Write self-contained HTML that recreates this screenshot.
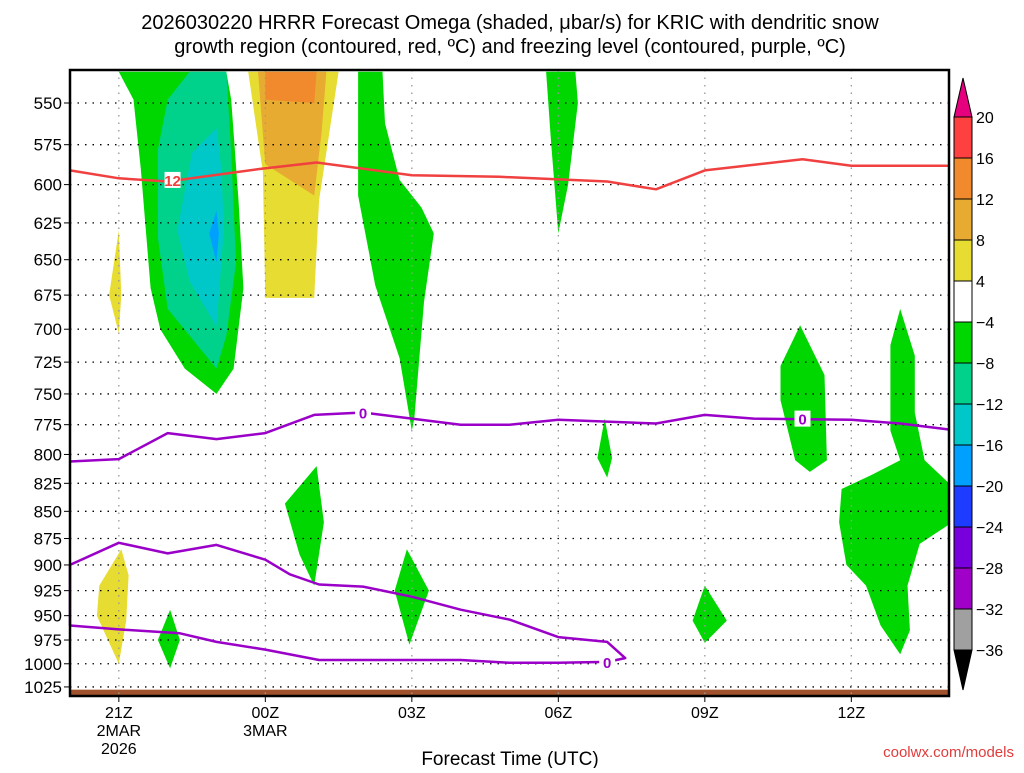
<!DOCTYPE html>
<html><head><meta charset="utf-8"><style>
body{margin:0;background:#fff;width:1024px;height:768px;overflow:hidden;font-family:"Liberation Sans","DejaVu Sans",sans-serif}
svg text{font-family:"Liberation Sans","DejaVu Sans",sans-serif}
</style></head><body>
<svg id="c" width="1024" height="768" xmlns="http://www.w3.org/2000/svg">
<text x="510" y="29" font-size="20" text-anchor="middle">2026030220 HRRR Forecast Omega (shaded, μbar/s) for KRIC with dendritic snow</text>
<text x="510" y="53" font-size="20" text-anchor="middle">growth region (contoured, red, ºC) and freezing level (contoured, purple, ºC)</text>
<g id="fills"></g><g id="grid"></g><g id="lines"></g><g id="axes"></g><g id="cbar"></g>
<text x="510" y="765" font-size="19" text-anchor="middle">Forecast Time (UTC)</text>
<text x="1014" y="757" font-size="15" fill="#e03c3c" text-anchor="end">coolwx.com/models</text>
</svg>
<script>
const pressureTicks=[550,575,600,625,650,675,700,725,750,775,800,825,850,875,900,925,950,975,1000,1025];
const timeTicks=[21,24,27,30,33,36];
const timeLabels=[["21Z","2MAR","2026"],["00Z","3MAR"],["03Z"],["06Z"],["09Z"],["12Z"]];
const cbarLevels=["20","16","12","8","4","\u22124","\u22128","\u221212","\u221216","\u221220","\u221224","\u221228","\u221232","\u221236"];
const cbarColors=["#ff4040","#f08a2c","#e6ab30","#e6dc32","#ffffff","#00d700","#00d28c","#00c8c8","#00a0ff","#1e3cff","#7800dc","#a000c8","#a0a0a0"];
// shaded regions [hour, hPa]
const greenOuter=[[21,532],[21.3,548],[21.45,590],[21.65,670],[21.85,700],[22.35,730],[23,750],[23.35,730],[23.55,670],[23.45,610],[23.3,548],[23.2,532]];
const tealRegion=[[22.45,532],[22,548],[21.8,578],[21.8,635],[22,685],[23,730],[23.2,705],[23.4,652],[23.3,580],[23.2,532]];
const cyanRegion=[[23,565],[22.5,580],[22.2,630],[22.45,665],[23,698],[23.15,630],[23.1,590]];
const blueRegion=[[23,617],[22.85,632],[23,652],[23.05,632]];
const yellowTop=[[23.65,532],[23.95,592],[24,677],[25,677],[25.1,610],[25.5,532]];
const goldTop=[[23.85,532],[24,587],[25,607],[25.15,568],[25.25,532]];
const orangeTop=[[24,532],[24,548],[25,550],[25.05,532]];
const yellowSmall=[[21,630],[20.8,675],[21,703],[21.05,675]];
const yellowLow=[[21.05,885],[20.6,920],[20.55,950],[21,1000],[21.15,955],[21.2,910]];
const green03=[[25.9,532],[25.9,607],[26.25,668],[26.75,722],[27,780],[27.05,770],[27.25,680],[27.45,632],[27.2,615],[26.75,597],[26.45,562],[26.4,532]];
const green06=[[29.75,532],[29.85,573],[30,632],[30.2,600],[30.4,550],[30.35,532]];
const green07=[[30.95,770],[30.8,803],[31,820],[31.1,803]];
const green01=[[25.05,810],[24.4,843],[24.7,890],[25,920],[25.2,860]];
const green22=[[22.05,944],[21.8,975],[22.05,1005],[22.25,975]];
const green03b=[[26.9,885],[26.65,925],[26.95,980],[27.35,925]];
const green09=[[33,920],[32.75,955],[33,978],[33.45,955]];
const green11=[[34.95,697],[34.55,728],[34.55,755],[34.85,805],[35.15,815],[35.5,805],[35.45,735]];
const green13=[[37,685],[36.8,712],[36.8,780],[37,805],[36.4,818],[35.8,830],[35.75,860],[35.9,900],[36.3,920],[36.6,960],[37,990],[37.2,965],[37.15,920],[37.4,880],[38,862],[38,825],[37.5,805],[37.3,765],[37.3,720]];
const dgzLine=[[20,591],[21,596],[22,598],[23.9,590],[25.05,586],[27,594],[28.8,595],[31,598],[32,603],[33,591],[35,584],[36,588],[38,588]];
const frzUpper=[[20,806],[21,804],[22,782],[23,787],[24,782],[25,767],[26,765],[27,770],[28,775],[29,775],[30,771],[32,774],[33,767],[34,770],[36,771],[37,774],[38,779]];
const frzLower=[[20,900],[21,879],[22,889],[23,881],[24,895],[24.5,909],[25.1,919],[26,921],[27,931],[28,944],[29,954],[30,972],[31,977],[31.37,994],[31,998],[30,999],[29,999],[28,996],[27,996],[25.1,996],[24,985],[23,977],[22.25,968],[21,964],[20,960]];

const X0=70,X1=949,Y0=70,Y1=696,H0=20,H1=38;
const xs=h=>X0+(h-H0)*(X1-X0)/(H1-H0);
const ys=p=>103+938*Math.log(p/550);
const NS="http://www.w3.org/2000/svg";
function mk(tag,attrs,parent){const e=document.createElementNS(NS,tag);for(const k in attrs)e.setAttribute(k,attrs[k]);parent.appendChild(e);return e;}
const pts=a=>a.map(d=>xs(d[0]).toFixed(1)+","+ys(d[1]).toFixed(1)).join(" ");
const fills=document.getElementById("fills");
const regions=[[greenOuter,"#00d700","omega-minus4-core"],[tealRegion,"#00d28c","omega-minus8-core"],[cyanRegion,"#00c8c8","omega-minus12-core"],[blueRegion,"#00a0ff","omega-minus16-core"],
[yellowTop,"#e6dc32","omega-plus4-upper"],[goldTop,"#e6ab30","omega-plus8-upper"],[orangeTop,"#f08a2c","omega-plus12-upper"],[yellowSmall,"#e6dc32","omega-plus4-small"],[yellowLow,"#e6dc32","omega-plus4-low"],
[green03,"#00d700","omega-minus4-03z"],[green06,"#00d700","omega-minus4-06z"],[green07,"#00d700","omega-minus4-07z"],[green01,"#00d700","omega-minus4-01z"],[green22,"#00d700","omega-minus4-22z"],[green03b,"#00d700","omega-minus4-03z-low"],[green09,"#00d700","omega-minus4-09z"],[green11,"#00d700","omega-minus4-11z"],[green13,"#00d700","omega-minus4-13z"]];
regions.forEach(r=>{const e=mk("polygon",{points:pts(r[0]),fill:r[1]},fills);

});
const g=mk("rect",{x:X0,y:ys(1028),width:X1-X0,height:Y1-ys(1028),fill:"#a0522d"},fills);


const grid=document.getElementById("grid"),axes=document.getElementById("axes");
pressureTicks.forEach(p=>{const y=ys(p);
const l=mk("line",{x1:X0,x2:X1,y1:y,y2:y,stroke:"#000","stroke-width":1.3,"stroke-dasharray":"1.5,6"},grid);


mk("line",{x1:X0-6,x2:X0,y1:y,y2:y,stroke:"#000"},axes);
const t=mk("text",{x:X0-8,y:y+6,"font-size":17,"text-anchor":"end"},axes);t.textContent=p;

});
timeTicks.forEach((h,i)=>{const x=xs(h);
const l=mk("line",{x1:x,x2:x,y1:Y0,y2:Y1,stroke:"#999","stroke-width":1.3,"stroke-dasharray":"1.5,6"},grid);


mk("line",{x1:x,x2:x,y1:Y1,y2:Y1+6,stroke:"#000"},axes);
timeLabels[i].forEach((s,j)=>{const t=mk("text",{x:x,y:718+j*18,"font-size":16,"text-anchor":"middle"},axes);t.textContent=s;

});});
const fr=mk("rect",{x:X0,y:Y0,width:X1-X0,height:Y1-Y0,fill:"none",stroke:"#000","stroke-width":2.5},axes);


const lines=document.getElementById("lines");
function pl(a,c,name,closed){const e=mk(closed?"polygon":"polyline",{points:pts(a),fill:"none",stroke:c,"stroke-width":2.5,"stroke-linejoin":"round"},lines);

}
pl(dgzLine,"#f04040","dgz-minus12-contour");
pl(frzUpper,"#9a00c8","freezing-level-upper");
pl(frzLower,"#9a00c8","freezing-level-lower",true);
function lab(h,p,s,c,name){const x=xs(h),y=ys(p);mk("rect",{x:x-8,y:y-8,width:16,height:16,fill:"#fff"},lines);
const t=mk("text",{x:x,y:y+6,"font-size":15,"font-weight":"bold",fill:c,"text-anchor":"middle"},lines);t.textContent=s;

}
lab(22.1,597,"12","#f04040","dgz-contour-label");
lab(26,765,"0","#9a00c8","freezing-label-1");
lab(35,770,"0","#9a00c8","freezing-label-2");
lab(31,998,"0","#9a00c8","freezing-label-3");
const cb=document.getElementById("cbar");const cx=954,cw=18,ct=117,step=41;
mk("polygon",{points:`${cx},${ct} ${cx+cw},${ct} ${cx+cw/2},${ct-39}`,fill:"#e6007e",stroke:"#000"},cb);
cbarColors.forEach((c,i)=>{const r=mk("rect",{x:cx,y:ct+i*step,width:cw,height:step,fill:c,stroke:"#000"},cb);

});
const cbb=ct+cbarColors.length*step;
mk("polygon",{points:`${cx},${cbb} ${cx+cw},${cbb} ${cx+cw/2},${cbb+40}`,fill:"#000",stroke:"#000"},cb);
cbarLevels.forEach((s,i)=>{const t=mk("text",{x:cx+cw+4,y:ct+i*step+6,"font-size":16},cb);t.textContent=s;

});
</script>
</body></html>
